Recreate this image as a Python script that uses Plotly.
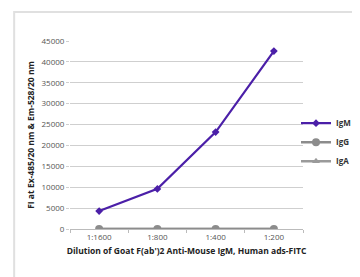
import plotly.graph_objects as go

categories = ["1:1600", "1:800", "1:400", "1:200"]
igm = [4300, 9600, 23200, 42600]
igg = [0, 0, 0, 0]
iga = [0, 0, 0, 0]
yticks = [0, 5000, 10000, 15000, 20000, 25000, 30000, 35000, 40000, 45000]
ytick_labels = [str(v) for v in yticks]

fig = go.Figure()
fig.add_trace(go.Scatter(x=categories, y=iga, name="IgA", mode="lines+markers",
                         line=dict(color="#9a9a9a", width=2.5),
                         marker=dict(symbol="triangle-up", size=7, color="#9a9a9a")))
fig.add_trace(go.Scatter(x=categories, y=igg, name="IgG", mode="lines+markers",
                         line=dict(color="#8c8c8c", width=2.5),
                         marker=dict(symbol="circle", size=8, color="#8c8c8c")))
fig.add_trace(go.Scatter(x=categories, y=igm, name="IgM", mode="lines+markers",
                         line=dict(color="#4b1fa8", width=2.2),
                         marker=dict(symbol="diamond", size=6, color="#4b1fa8")))

fig.update_layout(
    width=360, height=277,
    margin=dict(l=62, r=56, t=33, b=56),
    paper_bgcolor="white", plot_bgcolor="white",
    font=dict(family="Open Sans", size=8, color="#333"),
    showlegend=True,
    legend=dict(x=0.97, y=0.64, xanchor="left", yanchor="top",
                traceorder="reversed", font=dict(size=8, color="#333", weight="bold"),
                itemwidth=30, tracegroupgap=0, bgcolor="rgba(0,0,0,0)"),
    xaxis=dict(type="category", range=[-0.5, 3.5], showgrid=False,
               showline=True, linecolor="#bbb", linewidth=1,
               ticks="outside", ticklen=3, tickcolor="#bbb", tickson="boundaries",
               tickfont=dict(size=8, color="#555"),
               title=dict(text="<b>Dilution of Goat F(ab')2 Anti-Mouse IgM, Human ads-FITC</b>",
                          font=dict(size=8.5, color="#222"), standoff=7)),
    yaxis=dict(range=[0, 45000], tickvals=yticks, ticktext=ytick_labels,
               showgrid=True, gridcolor="#cfcfcf",
               gridwidth=1, zeroline=False, showline=False,
               ticks="outside", ticklen=3, tickcolor="#cfcfcf",
               tickfont=dict(size=8, color="#555"),
               title=dict(text="<b>FI at Ex-485/20 nm & Em-528/20 nm</b>",
                          font=dict(size=8.5, color="#222"), standoff=5)),
    shapes=[dict(type="rect", xref="paper", yref="paper",
                 x0=(4 - 62) / 242, x1=1.5, y0=-0.6, y1=(221 - 4) / 188,
                 line=dict(color="#e0e0e0", width=2), layer="below")],
)

fig.write_html("out.html")
